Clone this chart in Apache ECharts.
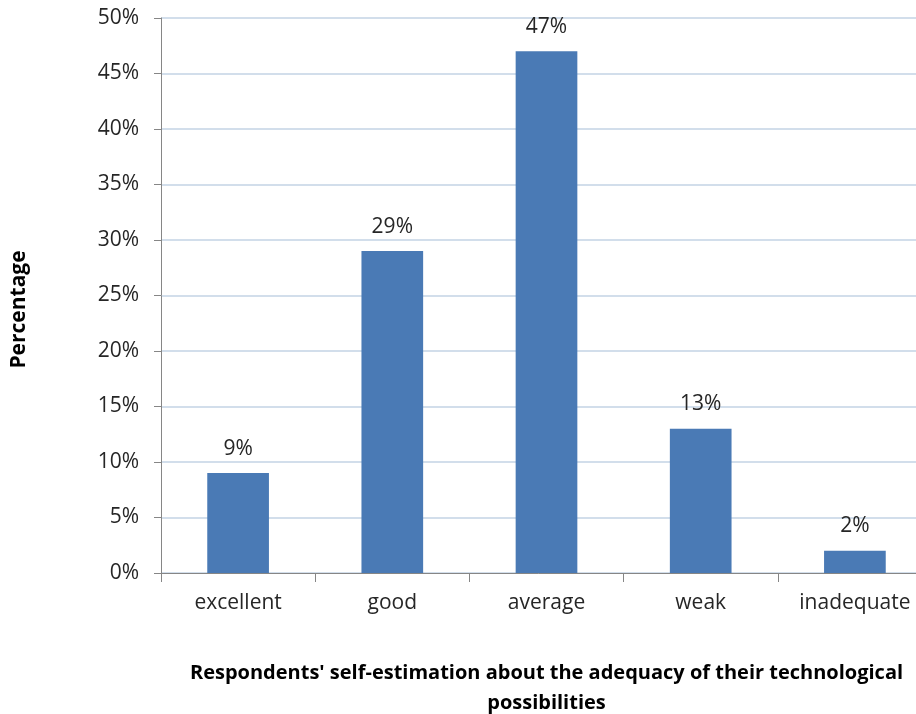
<!DOCTYPE html>
<html>
<head>
<meta charset="utf-8">
<script src="https://cdn.jsdelivr.net/npm/echarts@6/dist/echarts.min.js"></script>
<style>
html,body{margin:0;padding:0;background:#fff;}
#chart{width:916px;height:714px;}
</style>
</head>
<body>
<div id="chart"></div>
<script>
// Self-assessed adequacy of technological possibilities (percent of respondents)
const categories = ['excellent', 'good', 'average', 'weak', 'inadequate'];
const percentages = [9, 29, 47, 13, 2];
const yTicks = [0, 5, 10, 15, 20, 25, 30, 35, 40, 45, 50];

const FONT = '"Open Sans", "Noto Sans", sans-serif';
const chart = echarts.init(document.getElementById('chart'));

chart.setOption({
  animation: false,
  backgroundColor: '#ffffff',
  grid: { left: 161, top: 18, width: 771, height: 555, containLabel: false, outerBoundsMode: 'none' },
  xAxis: {
    type: 'category',
    data: categories,
    axisLine: { lineStyle: { color: '#868686', width: 1 } },
    axisTick: { show: true, alignWithLabel: false, length: 9, lineStyle: { color: '#868686' } },
    axisLabel: { color: '#262626', fontSize: 21, fontFamily: FONT, margin: 20 },
    name: "Respondents' self-estimation about the adequacy of their technological\npossibilities",
    nameLocation: 'middle',
    nameGap: 85,
    nameTextStyle: { color: '#000', fontSize: 20, fontWeight: 'bold', fontFamily: FONT, lineHeight: 30 }
  },
  yAxis: {
    type: 'value',
    min: yTicks[0],
    max: yTicks[yTicks.length - 1],
    interval: 5,
    axisLine: { show: true, lineStyle: { color: '#868686', width: 1 } },
    axisTick: { show: true, length: 7, lineStyle: { color: '#868686' } },
    axisLabel: { color: '#262626', fontSize: 21, fontFamily: FONT, margin: 22, formatter: v => v + '%' },
    splitLine: { show: true, lineStyle: { color: '#c3d3e5', width: 1.5 } },
    name: 'Percentage',
    nameLocation: 'middle',
    nameGap: 131,
    nameRotate: 90,
    nameTextStyle: { color: '#000', fontSize: 21, fontWeight: 'bold', fontFamily: FONT, padding: [0, 28, 0, 0] }
  },
  series: [{
    type: 'bar',
    data: percentages,
    barWidth: '40%',
    itemStyle: { color: '#4a7ab5' },
    label: {
      show: true,
      position: 'top',
      distance: 14,
      color: '#262626',
      fontSize: 21,
      fontFamily: FONT,
      formatter: p => p.value + '%'
    }
  }]
});
</script>
</body>
</html>
